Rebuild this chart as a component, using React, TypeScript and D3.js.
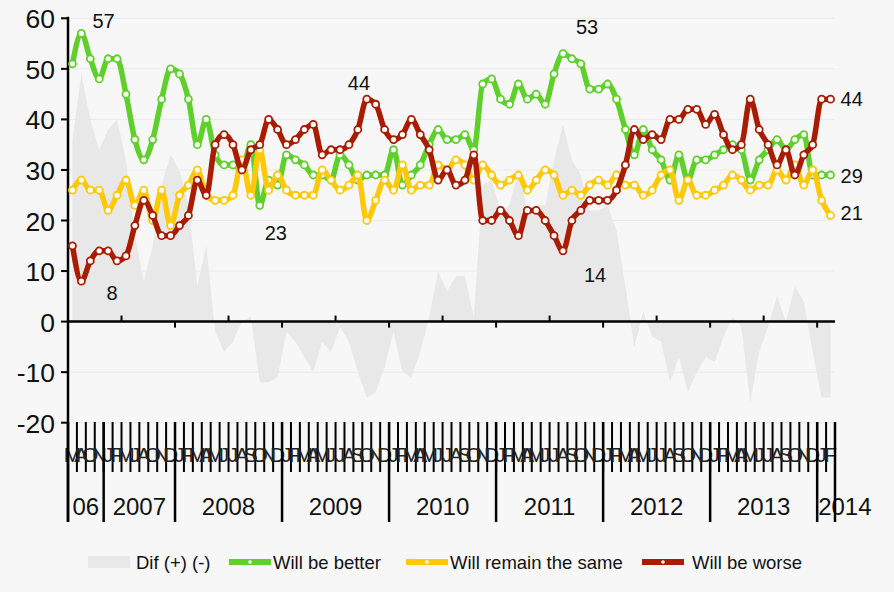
import { useRef, useEffect } from 'react';
import * as d3 from 'd3';

// Survey months, grouped by year
const fullYear = ['J', 'F', 'M', 'A', 'M', 'J', 'J', 'A', 'S', 'O', 'N', 'D'];
const yearLabels = ['06', '2007', '2008', '2009', '2010', '2011', '2012', '2013', '2014'];
const yearMonths = [
  ['M', 'A', 'O', 'N'],
  ['J', 'F', 'M', 'J', 'A', 'O', 'N', 'D'],
  fullYear, fullYear, fullYear, fullYear, fullYear, fullYear,
  ['J', 'F'],
];

const better = [
  51, 57, 52, 48,
  52, 52, 45, 36, 32, 36, 44, 50,
  49, 44, 35, 40, 33, 31, 31, 30, 35, 23, 28, 27,
  33, 32, 31, 29, 29, 28, 33, 31, 28, 29, 29, 29,
  34, 27, 29, 31, 35, 38, 36, 36, 37, 34, 47, 48,
  44, 43, 47, 44, 45, 43, 49, 53, 52, 51, 46, 46,
  47, 44, 38, 33, 38, 34, 32, 28, 33, 28, 32, 32,
  33, 34, 35, 34, 28, 32, 34, 36, 34, 36, 37, 29,
  29, 29,
];
const same = [
  26, 28, 26, 26,
  22, 25, 28, 23, 26, 20, 26, 19,
  25, 27, 30, 25, 24, 24, 25, 32, 25, 34, 26, 29,
  26, 25, 25, 25, 30, 28, 26, 27, 29, 20, 24, 28,
  26, 31, 26, 27, 27, 31, 30, 32, 31, 28, 31, 29,
  27, 28, 29, 26, 28, 30, 29, 25, 26, 25, 27, 28,
  27, 29, 27, 27, 25, 26, 29, 30, 24, 28, 25, 25,
  26, 27, 29, 28, 26, 27, 27, 30, 28, 31, 27, 30,
  24, 21,
];
const worse = [
  15, 8, 12, 14,
  14, 12, 13, 19, 24, 21, 17, 17,
  19, 21, 28, 25, 35, 37, 35, 30, 34, 35, 40, 38,
  35, 36, 38, 39, 33, 34, 34, 35, 38, 44, 43, 38,
  36, 37, 40, 37, 34, 28, 30, 27, 28, 33, 20, 20,
  22, 20, 17, 22, 22, 20, 17, 14, 20, 22, 24, 24,
  24, 26, 31, 38, 36, 37, 36, 40, 40, 42, 42, 39,
  41, 37, 34, 35, 44, 38, 35, 31, 34, 29, 33, 35,
  44, 44,
];
const yTicks = [60, 50, 40, 30, 20, 10, 0, -10, -20];

const GREEN = '#5fd02b';
const YELLOW = '#ffc90a';
const RED = '#a81c02';

const series = [
  { name: 'Will be better', values: better, color: GREEN },
  { name: 'Will remain the same', values: same, color: YELLOW },
  { name: 'Will be worse', values: worse, color: RED },
];

// value labels: [series index, point index, dx, dy]
const callouts: [number, number, number, number][] = [
  [0, 1, 11, -5],
  [2, 1, 25, 19],
  [0, 21, 5, 35],
  [2, 33, -19, -9],
  [0, 55, 13, -20],
  [2, 55, 21, 31],
  [2, 85, 10, 7],
  [0, 85, 10, 8],
  [1, 85, 10, 5],
];

const FONT = 'Liberation Sans, Arial, sans-serif';

export default function App() {
  const svgRef = useRef<SVGSVGElement>(null);
  const width = 894;
  const height = 592;
  const margin = { left: 68, right: 835, top: 18.3, zero: 321.7, bottom: 422.7 };

  useEffect(() => {
    if (!svgRef.current) return;
    const svg = d3.select(svgRef.current);
    svg.selectAll('*').remove();

    const cats = yearMonths.flatMap((ms, yi) => ms.map((m, mi) => `${yi}-${mi}-${m}`));
    const monthOf = yearMonths.flat();

    const x = d3.scaleBand<string>().domain(cats).range([margin.left, margin.right]).padding(0);
    const step = x.step();
    const cx = (i: number) => (x(cats[i]) as number) + step / 2;
    const y = d3.scaleLinear().domain([-20, 60]).range([margin.bottom, margin.top]);

    svg.append('rect').attr('width', width).attr('height', height).attr('fill', '#f7f7f7');

    // Grid
    svg.append('g')
      .selectAll('line')
      .data(yTicks)
      .join('line')
      .attr('x1', margin.left)
      .attr('x2', margin.right)
      .attr('y1', d => y(d))
      .attr('y2', d => y(d))
      .attr('stroke', '#e9e9e9')
      .attr('stroke-width', 1);

    // Dif area
    const dif = better.map((b, i) => b - worse[i]);
    const area = d3.area<number>()
      .x((_, i) => cx(i))
      .y0(y(0))
      .y1(d => y(d));
    svg.append('path').datum(dif).attr('fill', '#e8e8e8').attr('d', area);

    // Zero axis line + alternating ticks
    svg.append('line')
      .attr('x1', margin.left).attr('x2', margin.right)
      .attr('y1', y(0)).attr('y2', y(0))
      .attr('stroke', '#000').attr('stroke-width', 2.5);
    const halfYears = d3.range(6, cats.length, 6);
    svg.append('g')
      .selectAll('line')
      .data(halfYears)
      .join('line')
      .attr('x1', d => x(cats[d]) as number)
      .attr('x2', d => x(cats[d]) as number)
      .attr('y1', y(0))
      .attr('y2', d => y(0) + ((d / 6) % 2 === 1 ? -6 : 6))
      .attr('stroke', '#000')
      .attr('stroke-width', 2);

    // Y axis
    svg.append('line')
      .attr('x1', margin.left).attr('x2', margin.left)
      .attr('y1', margin.top - 1.5).attr('y2', 522)
      .attr('stroke', '#000').attr('stroke-width', 2.5);
    const yAxis = svg.append('g');
    yAxis.selectAll('line')
      .data(yTicks)
      .join('line')
      .attr('x1', margin.left - 7)
      .attr('x2', margin.left)
      .attr('y1', d => y(d))
      .attr('y2', d => y(d))
      .attr('stroke', '#000')
      .attr('stroke-width', 2);
    yAxis.selectAll('text')
      .data(yTicks)
      .join('text')
      .attr('x', 55)
      .attr('y', d => y(d) + 10)
      .attr('text-anchor', 'end')
      .attr('font-family', FONT)
      .attr('font-size', 26.5)
      .attr('fill', '#111')
      .text(d => String(d));

    // Month ticks and letters
    const xAxis = svg.append('g');
    xAxis.selectAll('line')
      .data(d3.range(cats.length + 1))
      .join('line')
      .attr('x1', d => margin.left + d * step)
      .attr('x2', d => margin.left + d * step)
      .attr('y1', 422)
      .attr('y2', 472)
      .attr('stroke', '#000')
      .attr('stroke-width', 2);
    xAxis.selectAll('text')
      .data(cats)
      .join('text')
      .attr('x', (_, i) => cx(i))
      .attr('y', 462)
      .attr('text-anchor', 'middle')
      .attr('font-family', FONT)
      .attr('font-size', 21)
      .attr('fill', '#222')
      .text((_, i) => monthOf[i]);

    // Year separators and labels
    const starts = yearMonths.reduce<number[]>((acc, ms, i) => {
      acc.push(i === 0 ? 0 : acc[i - 1] + yearMonths[i - 1].length);
      return acc;
    }, []);
    const yearG = svg.append('g');
    starts.forEach((s, i) => {
      const x0 = margin.left + s * step;
      const x1 = margin.left + (s + yearMonths[i].length) * step;
      yearG.append('line')
        .attr('x1', x0).attr('x2', x0)
        .attr('y1', 422).attr('y2', 522)
        .attr('stroke', '#000').attr('stroke-width', 2.5);
      const last = i === yearLabels.length - 1;
      yearG.append('text')
        .attr('x', last ? x0 + 1 : (x0 + x1) / 2)
        .attr('y', 515)
        .attr('text-anchor', last ? 'start' : 'middle')
        .attr('font-family', FONT)
        .attr('font-size', 24)
        .attr('fill', '#111')
        .text(yearLabels[i]);
      if (last) {
        yearG.append('line')
          .attr('x1', x1).attr('x2', x1)
          .attr('y1', 422).attr('y2', 522)
          .attr('stroke', '#000').attr('stroke-width', 2.5);
      }
    });

    // Series lines
    const line = d3.line<number>()
      .x((_, i) => cx(i))
      .y(d => y(d))
      .curve(d3.curveMonotoneX);

    series.forEach(s => {
      const g = svg.append('g');
      g.append('path')
        .datum(s.values)
        .attr('fill', 'none')
        .attr('stroke', s.color)
        .attr('stroke-width', 5.5)
        .attr('stroke-linejoin', 'round')
        .attr('d', line);
      g.selectAll('circle')
        .data(s.values)
        .join('circle')
        .attr('cx', (_, i) => cx(i))
        .attr('cy', d => y(d))
        .attr('r', 3.5)
        .attr('fill', '#fff')
        .attr('stroke', s.color)
        .attr('stroke-width', 1.8);
    });

    // Value callouts
    svg.append('g')
      .selectAll('text')
      .data(callouts)
      .join('text')
      .attr('x', d => cx(d[1]) + d[2])
      .attr('y', d => y(series[d[0]].values[d[1]]) + d[3])
      .attr('font-family', FONT)
      .attr('font-size', 20)
      .attr('fill', '#111')
      .text(d => String(series[d[0]].values[d[1]]));

    // Legend
    const lg = svg.append('g').attr('font-family', FONT).attr('font-size', 18.5).attr('fill', '#111');
    lg.append('rect').attr('x', 88).attr('y', 556).attr('width', 42).attr('height', 12).attr('fill', '#e8e8e8');
    lg.append('text').attr('x', 136).attr('y', 569).text('Dif (+) (-)');
    const legendItems = [
      { s: series[0], x: 229, tx: 273 },
      { s: series[1], x: 406, tx: 450 },
      { s: series[2], x: 642, tx: 692 },
    ];
    legendItems.forEach(({ s, x: lx, tx }) => {
      lg.append('line')
        .attr('x1', lx).attr('x2', lx + 42)
        .attr('y1', 562).attr('y2', 562)
        .attr('stroke', s.color).attr('stroke-width', 6);
      lg.append('circle')
        .attr('cx', lx + 21).attr('cy', 562).attr('r', 1.8)
        .attr('fill', '#fff');
      lg.append('text').attr('x', tx).attr('y', 569).text(s.name);
    });
  }, []);

  return (
    <div>
      <style>{'body{margin:0}'}</style>
      <svg ref={svgRef} width={width} height={height} style={{ display: 'block' }} />
    </div>
  );
}
